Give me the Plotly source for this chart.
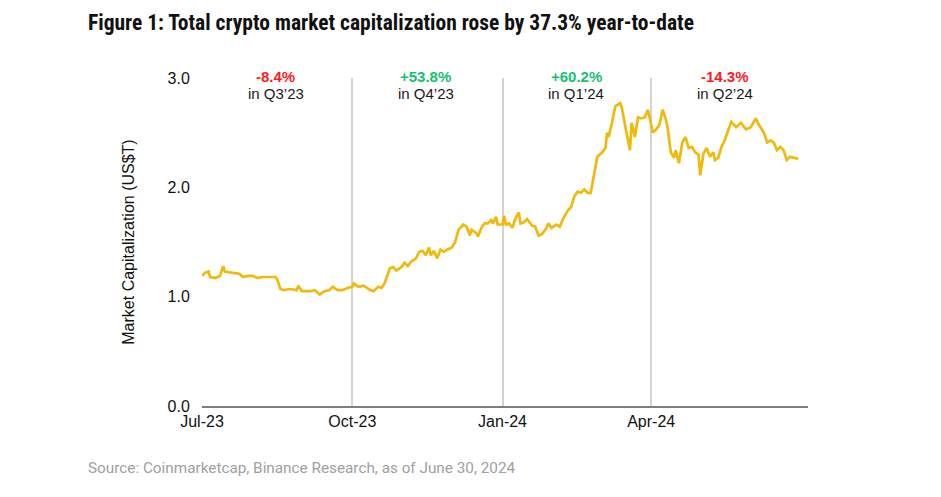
import plotly.graph_objects as go

dates = [
    "2023-07-01", "2023-07-03", "2023-07-05", "2023-07-06", "2023-07-09", "2023-07-12", "2023-07-14",
    "2023-07-15", "2023-07-19", "2023-07-24", "2023-07-26", "2023-07-29", "2023-08-01", "2023-08-04",
    "2023-08-07", "2023-08-10", "2023-08-15", "2023-08-16", "2023-08-18", "2023-08-20", "2023-08-24",
    "2023-08-28", "2023-08-29", "2023-08-31", "2023-09-05", "2023-09-08", "2023-09-11", "2023-09-14",
    "2023-09-17", "2023-09-19", "2023-09-22", "2023-09-25", "2023-09-28", "2023-10-01", "2023-10-02",
    "2023-10-05", "2023-10-08", "2023-10-12", "2023-10-14", "2023-10-17", "2023-10-19", "2023-10-21",
    "2023-10-24", "2023-10-26", "2023-10-28", "2023-10-31", "2023-11-02", "2023-11-04", "2023-11-06",
    "2023-11-09", "2023-11-11", "2023-11-13", "2023-11-15", "2023-11-17", "2023-11-18", "2023-11-20",
    "2023-11-22", "2023-11-24", "2023-11-26", "2023-11-28", "2023-12-01", "2023-12-03", "2023-12-05",
    "2023-12-08", "2023-12-10", "2023-12-12", "2023-12-13", "2023-12-16", "2023-12-17", "2023-12-19",
    "2023-12-21", "2023-12-23", "2023-12-25", "2023-12-26", "2023-12-28", "2023-12-29", "2024-01-01",
    "2024-01-02", "2024-01-03", "2024-01-05", "2024-01-07", "2024-01-09", "2024-01-11", "2024-01-12",
    "2024-01-14", "2024-01-16", "2024-01-19", "2024-01-21", "2024-01-23", "2024-01-25", "2024-01-28",
    "2024-01-29", "2024-01-31", "2024-02-03", "2024-02-05", "2024-02-07", "2024-02-10", "2024-02-12",
    "2024-02-14", "2024-02-16", "2024-02-18", "2024-02-20", "2024-02-22", "2024-02-24", "2024-02-26",
    "2024-02-28", "2024-03-02", "2024-03-04", "2024-03-05", "2024-03-06", "2024-03-08", "2024-03-10",
    "2024-03-13", "2024-03-14", "2024-03-16", "2024-03-17", "2024-03-19", "2024-03-20", "2024-03-22",
    "2024-03-24", "2024-03-26", "2024-03-28", "2024-03-30", "2024-04-02", "2024-04-04", "2024-04-06",
    "2024-04-08", "2024-04-10", "2024-04-11", "2024-04-13", "2024-04-15", "2024-04-16", "2024-04-18",
    "2024-04-20", "2024-04-22", "2024-04-24", "2024-04-26", "2024-04-28", "2024-04-30", "2024-05-01",
    "2024-05-03", "2024-05-05", "2024-05-07", "2024-05-09", "2024-05-10", "2024-05-12", "2024-05-14",
    "2024-05-16", "2024-05-20", "2024-05-23", "2024-05-26", "2024-05-29", "2024-06-01", "2024-06-04",
    "2024-06-06", "2024-06-09", "2024-06-11", "2024-06-13", "2024-06-15", "2024-06-17", "2024-06-19",
    "2024-06-21", "2024-06-23", "2024-06-25", "2024-06-27", "2024-06-30",
]

market_cap = [
    1.19, 1.22, 1.23, 1.18, 1.17, 1.19, 1.28,
    1.23, 1.22, 1.21, 1.18, 1.19, 1.19, 1.17,
    1.18, 1.18, 1.18, 1.16, 1.07, 1.06, 1.07,
    1.06, 1.10, 1.05, 1.05, 1.06, 1.02, 1.05,
    1.06, 1.09, 1.06, 1.06, 1.08, 1.09, 1.12,
    1.09, 1.10, 1.06, 1.05, 1.09, 1.08, 1.13,
    1.26, 1.27, 1.24, 1.27, 1.31, 1.28, 1.32,
    1.35, 1.41, 1.42, 1.38, 1.45, 1.38, 1.42,
    1.35, 1.43, 1.41, 1.43, 1.45, 1.50, 1.61,
    1.66, 1.64, 1.56, 1.61, 1.58, 1.55, 1.63,
    1.67, 1.67, 1.70, 1.67, 1.73, 1.66, 1.66,
    1.74, 1.66, 1.67, 1.63, 1.72, 1.77, 1.67,
    1.68, 1.71, 1.65, 1.64, 1.56, 1.57, 1.63,
    1.67, 1.63, 1.66, 1.64, 1.71, 1.79, 1.82,
    1.92, 1.96, 1.95, 1.98, 1.95, 1.95, 2.13,
    2.28, 2.32, 2.36, 2.50, 2.46, 2.59, 2.74,
    2.77, 2.73, 2.57, 2.48, 2.34, 2.59, 2.46,
    2.64, 2.63, 2.64, 2.71, 2.50, 2.53, 2.57,
    2.71, 2.62, 2.55, 2.32, 2.27, 2.34, 2.22,
    2.41, 2.46, 2.36, 2.37, 2.32, 2.30, 2.11,
    2.31, 2.36, 2.28, 2.32, 2.25, 2.27, 2.37,
    2.43, 2.60, 2.55, 2.59, 2.53, 2.55, 2.63,
    2.57, 2.50, 2.41, 2.43, 2.41, 2.34, 2.37,
    2.34, 2.25, 2.28, 2.27, 2.26,
]

tick_dates = ["2023-07-01", "2023-10-01", "2024-01-01", "2024-04-01"]
tick_labels = ["Jul-23", "Oct-23", "Jan-24", "Apr-24"]

quarter_mid = ["2023-08-15", "2023-11-15", "2024-02-15", "2024-05-16"]
quarter_change = ["-8.4%", "+53.8%", "+60.2%", "-14.3%"]
quarter_label = ["in Q3\u201923", "in Q4\u201923", "in Q1\u201924", "in Q2\u201924"]

RED = "#FF1A1A"
GREEN = "#16C172"
SANS = "Liberation Sans"

fig = go.Figure()
fig.add_trace(go.Scatter(
    x=dates, y=market_cap, mode="lines",
    line=dict(color="#F0B90B", width=2.7),
    hoverinfo="skip", showlegend=False,
))

for xm, ch, lab in zip(quarter_mid, quarter_change, quarter_label):
    col = RED if ch.startswith("-") else GREEN
    fig.add_annotation(x=xm, y=1, xref="x", yref="paper", yshift=2,
                       text=f"<b>{ch}</b>", showarrow=False,
                       font=dict(family=SANS, size=15, color=col),
                       xanchor="center", yanchor="middle")
    fig.add_annotation(x=xm, y=1, xref="x", yref="paper", yshift=-15,
                       text=lab, showarrow=False,
                       font=dict(family=SANS, size=15, color="#1a1a1a"),
                       xanchor="center", yanchor="middle")

fig.update_layout(
    width=941, height=497, autosize=False,
    margin=dict(l=194, r=141, t=70, b=99),
    paper_bgcolor="white", plot_bgcolor="white",
    title=dict(
        text="<b>Figure 1: Total crypto market capitalization rose by 37.3% year-to-date</b>",
        x=80 / 941, xanchor="left", xref="container",
        y=1 - 14 / 497, yanchor="middle", yref="container",
        font=dict(family="Liberation Sans Narrow, Roboto Condensed, Roboto", size=21.5, color="#111111"),
    ),
    xaxis=dict(
        type="date",
        range=["2023-07-01", "2024-07-06"],
        tickvals=tick_dates, ticktext=tick_labels,
        showgrid=True, gridcolor="#d4d4d4", gridwidth=1.5,
        showline=True, linecolor="#7f7f7f", linewidth=1.5,
        ticks="", zeroline=False,
        tickfont=dict(family=SANS, size=16, color="#111111"),
    ),
    yaxis=dict(
        range=[0, 3], tickvals=[0, 1, 2, 3], ticktext=["0.0", "1.0", "2.0", "3.0"],
        showgrid=False, zeroline=False, showline=False,
        ticks="outside", ticklen=8, tickcolor="rgba(0,0,0,0)",
        tickfont=dict(family=SANS, size=16, color="#111111"),
        title=dict(text="Market Capitalization (US$T)", standoff=28,
                   font=dict(family=SANS, size=16, color="#111111")),
    ),
)

fig.add_annotation(
    text="Source: Coinmarketcap, Binance Research, as of June 30, 2024",
    xref="paper", yref="paper", x=-(194 - 78) / 606, y=-(468 - 406) / 328,
    xanchor="left", yanchor="middle", showarrow=False,
    font=dict(family="Roboto", size=15.3, color="#a0a0a0"),
)

fig.write_html("out.html")
